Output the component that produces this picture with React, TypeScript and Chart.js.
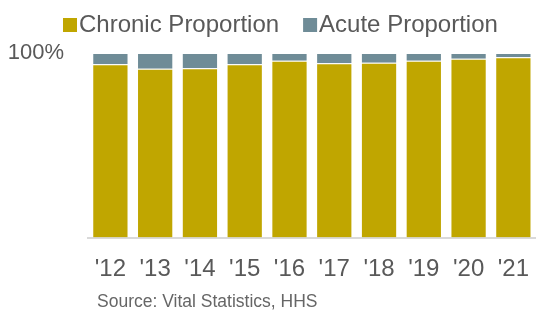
import { useEffect, useRef } from 'react';
import { Chart, registerables } from 'chart.js';

Chart.register(...registerables);

const FONT = '"Liberation Sans", Arial, Helvetica, sans-serif';
const TEXT_COLOR = '#595959';

const categories = ["'12", "'13", "'14", "'15", "'16", "'17", "'18", "'19", "'20", "'21"];
const chronicProportion = [93.9, 91.5, 91.7, 93.9, 95.8, 94.4, 94.7, 95.8, 96.9, 97.7];
const acuteProportion = [6.1, 8.5, 8.3, 6.1, 4.2, 5.6, 5.3, 4.2, 3.1, 2.3];
const yTickValues = [100];
const seriesLabels = ['Chronic Proportion', 'Acute Proportion'];
const seriesColors = ['#C0A600', '#6F8C97'];
const sourceText = 'Source: Vital Statistics, HHS';

const legendPlugin = {
  id: 'customLegend',
  afterDraw(chart: any) {
    const ctx = chart.ctx;
    ctx.save();
    ctx.font = `24px ${FONT}`;
    ctx.textBaseline = 'middle';
    ctx.textAlign = 'left';
    let x = 63;
    chart.data.datasets.forEach((ds: any) => {
      ctx.fillStyle = ds.backgroundColor;
      ctx.fillRect(x, 18, 14, 14);
      ctx.fillStyle = TEXT_COLOR;
      ctx.fillText(ds.label, x + 16, 25.5);
      x += 16 + ctx.measureText(ds.label).width + 24;
    });
    ctx.restore();
  },
};

const sourcePlugin = {
  id: 'sourceNote',
  afterDraw(chart: any) {
    const ctx = chart.ctx;
    ctx.save();
    ctx.font = `17.5px ${FONT}`;
    ctx.textBaseline = 'middle';
    ctx.textAlign = 'left';
    ctx.fillStyle = '#666666';
    ctx.fillText(sourceText, 97, 302);
    ctx.restore();
  },
};

export default function App() {
  const canvasRef = useRef<HTMLCanvasElement | null>(null);

  useEffect(() => {
    if (!canvasRef.current) return;
    const chart = new Chart(canvasRef.current, {
      type: 'bar',
      data: {
        labels: categories,
        datasets: [
          {
            label: seriesLabels[0],
            data: chronicProportion,
            backgroundColor: seriesColors[0],
            borderColor: 'rgba(255,255,255,0.5)',
            borderWidth: 1,
            categoryPercentage: 1,
            barPercentage: 0.81,
          },
          {
            label: seriesLabels[1],
            data: acuteProportion,
            backgroundColor: seriesColors[1],
            borderColor: 'rgba(255,255,255,0.5)',
            borderWidth: 1,
            categoryPercentage: 1,
            barPercentage: 0.81,
          },
        ],
      },
      options: {
        animation: false,
        responsive: false,
        layout: { padding: { top: 53, bottom: 11.7, left: 0, right: 0 } },
        plugins: {
          legend: { display: false },
          tooltip: { enabled: false },
          title: { display: false },
        },
        scales: {
          x: {
            stacked: true,
            grid: { display: false, drawTicks: false },
            border: { display: true, color: '#d9d9d9', width: 2 },
            ticks: {
              padding: 17,
              color: TEXT_COLOR,
              font: { size: 24, family: FONT },
              maxRotation: 0,
              autoSkip: false,
            },
          },
          y: {
            stacked: true,
            min: 0,
            max: 100,
            grid: { display: false, drawTicks: false },
            border: { display: false },
            afterBuildTicks: (s: any) => {
              s.ticks = yTickValues.map((v) => ({ value: v }));
            },
            afterFit: (s: any) => {
              s.width = 88;
            },
            ticks: {
              padding: 24,
              color: TEXT_COLOR,
              font: { size: 22, family: FONT },
              callback: (v: any) => `${v}%`,
            },
          },
        },
      },
      plugins: [legendPlugin, sourcePlugin],
    });
    return () => chart.destroy();
  }, []);

  return (
    <div style={{ position: 'absolute', left: 0, top: 0, width: 543, height: 312, overflow: 'hidden', background: '#fff' }}>
      <canvas ref={canvasRef} width={546} height={312} style={{ display: 'block' }} />
    </div>
  );
}
